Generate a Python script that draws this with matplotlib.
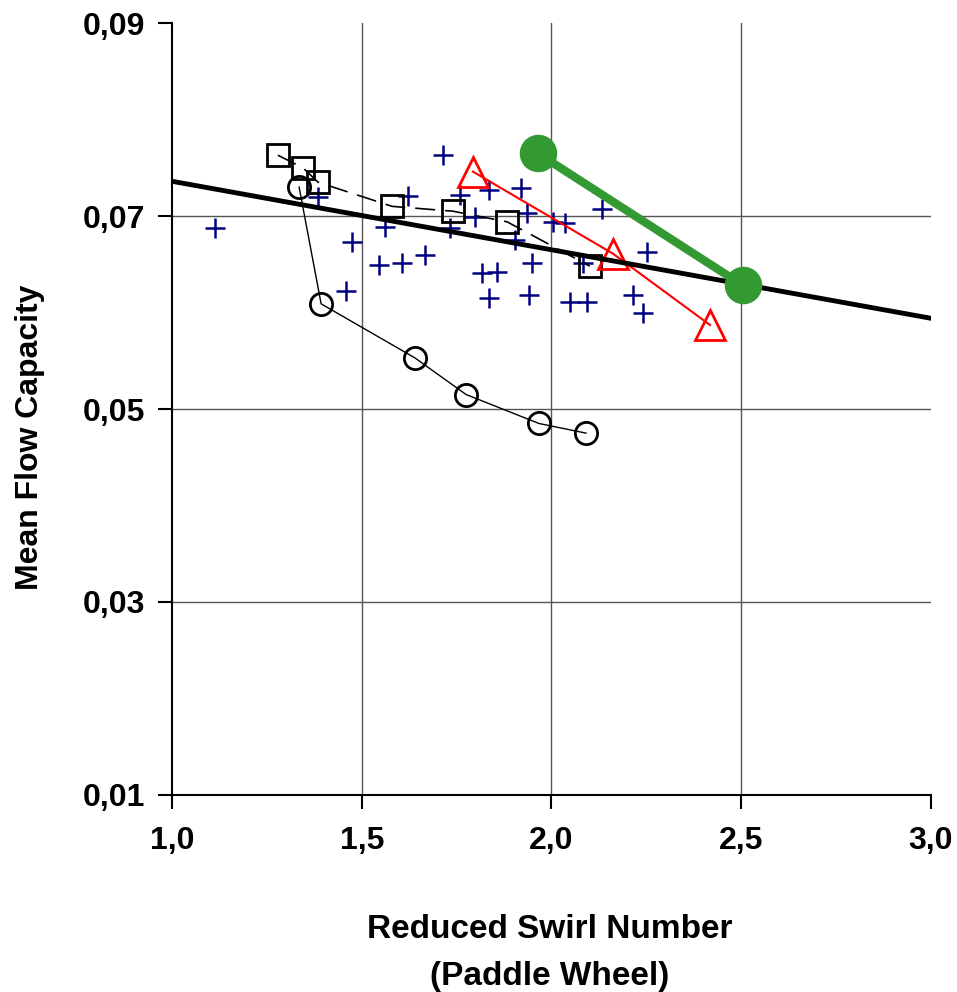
import numpy as np
import matplotlib.pyplot as plt

plt.rcParams['font.family'] = ['Liberation Sans', 'DejaVu Sans']
plt.rcParams['font.weight'] = 'bold'

# scatter (blue crosses)
cross_x = [1.113, 1.385, 1.561, 1.474, 1.545, 1.606, 1.667, 1.458, 1.622, 1.714,
           1.759, 1.733, 1.835, 1.920, 1.798, 1.935, 1.904, 1.817, 1.856, 1.949,
           1.835, 1.941, 2.004, 2.036, 2.133, 2.252, 2.049, 2.094, 2.215, 2.241, 2.083]
cross_y = [0.0688, 0.0720, 0.0689, 0.0673, 0.0649, 0.0651, 0.0660, 0.0622, 0.0721, 0.0763,
           0.0722, 0.0688, 0.0727, 0.0729, 0.0699, 0.0703, 0.0675, 0.0641, 0.0642, 0.0651,
           0.0615, 0.0618, 0.0694, 0.0693, 0.0707, 0.0663, 0.0611, 0.0611, 0.0618, 0.0600, 0.0651]

# squares
sq_x = [1.279, 1.345, 1.385, 1.580, 1.740, 1.883, 2.101]
sq_y = [0.0763, 0.0750, 0.0735, 0.0710, 0.0705, 0.0694, 0.0648]

# circles
ci_x = [1.335, 1.393, 1.640, 1.775, 1.967, 2.091]
ci_y = [0.0730, 0.0609, 0.0553, 0.0515, 0.0485, 0.0475]

# triangles
tri_x = [1.793, 2.162, 2.418]
tri_y = [0.0746, 0.0661, 0.0587]

# green dots
gr_x = [1.964, 2.505]
gr_y = [0.0765, 0.0628]

# trend line
fit_x = [1.0, 3.0]
fit_y = [0.0736, 0.0594]

fig = plt.figure(figsize=(9.57, 9.92), dpi=100)
ax = fig.add_axes([0.1797, 0.1986, 0.7931, 0.7782])

ax.plot(cross_x, cross_y, '+', color='#000080', ms=14, mew=1.8, zorder=3)
ax.plot(sq_x, sq_y, 's-', color='black', lw=1.2, dashes=(12, 6), ms=16, mfc='none', mew=2, zorder=4)
ax.plot(ci_x, ci_y, 'o-', color='black', lw=1.0, ms=16, mfc='none', mew=2, zorder=4)
ax.plot(tri_x, tri_y, '^-', color='red', lw=1.5, ms=21, mfc='none', mew=2, zorder=4)
ax.plot(fit_x, fit_y, '-', color='black', lw=3.5, zorder=5)
ax.plot(gr_x, gr_y, 'o-', color='#339933', lw=6, ms=26, zorder=6)

ax.set_xlim(1.0, 3.0)
ax.set_ylim(0.01, 0.09)
xt = [1.0, 1.5, 2.0, 2.5, 3.0]
yt = [0.01, 0.03, 0.05, 0.07, 0.09]
ax.set_xticks(xt)
ax.set_yticks(yt)
ax.set_xticklabels([f'{v:.1f}'.replace('.', ',') for v in xt])
ax.set_yticklabels([f'{v:.2f}'.replace('.', ',') for v in yt])
ax.tick_params(labelsize=23, length=10, width=1.5, direction='out')
ax.tick_params(axis='x', pad=12)
ax.tick_params(axis='y', pad=9)

for v in [1.5, 2.0, 2.5]:
    ax.axvline(v, color='#555555', lw=1, zorder=1)
for v in [0.03, 0.05, 0.07]:
    ax.axhline(v, color='#555555', lw=1, zorder=1)

ax.spines['top'].set_visible(False)
ax.spines['right'].set_visible(False)
ax.spines['left'].set_linewidth(1.5)
ax.spines['bottom'].set_linewidth(1.5)

fig.text(550 / 957, 1 - 953 / 992, 'Reduced Swirl Number\n(Paddle Wheel)', fontsize=24,
         fontweight='bold', ha='center', va='center', linespacing=1.65)
fig.text(30 / 957, 1 - 437 / 992, 'Mean Flow Capacity', fontsize=23, fontweight='bold',
         ha='center', va='center', rotation=90)

fig.savefig('out.png', dpi=100)
